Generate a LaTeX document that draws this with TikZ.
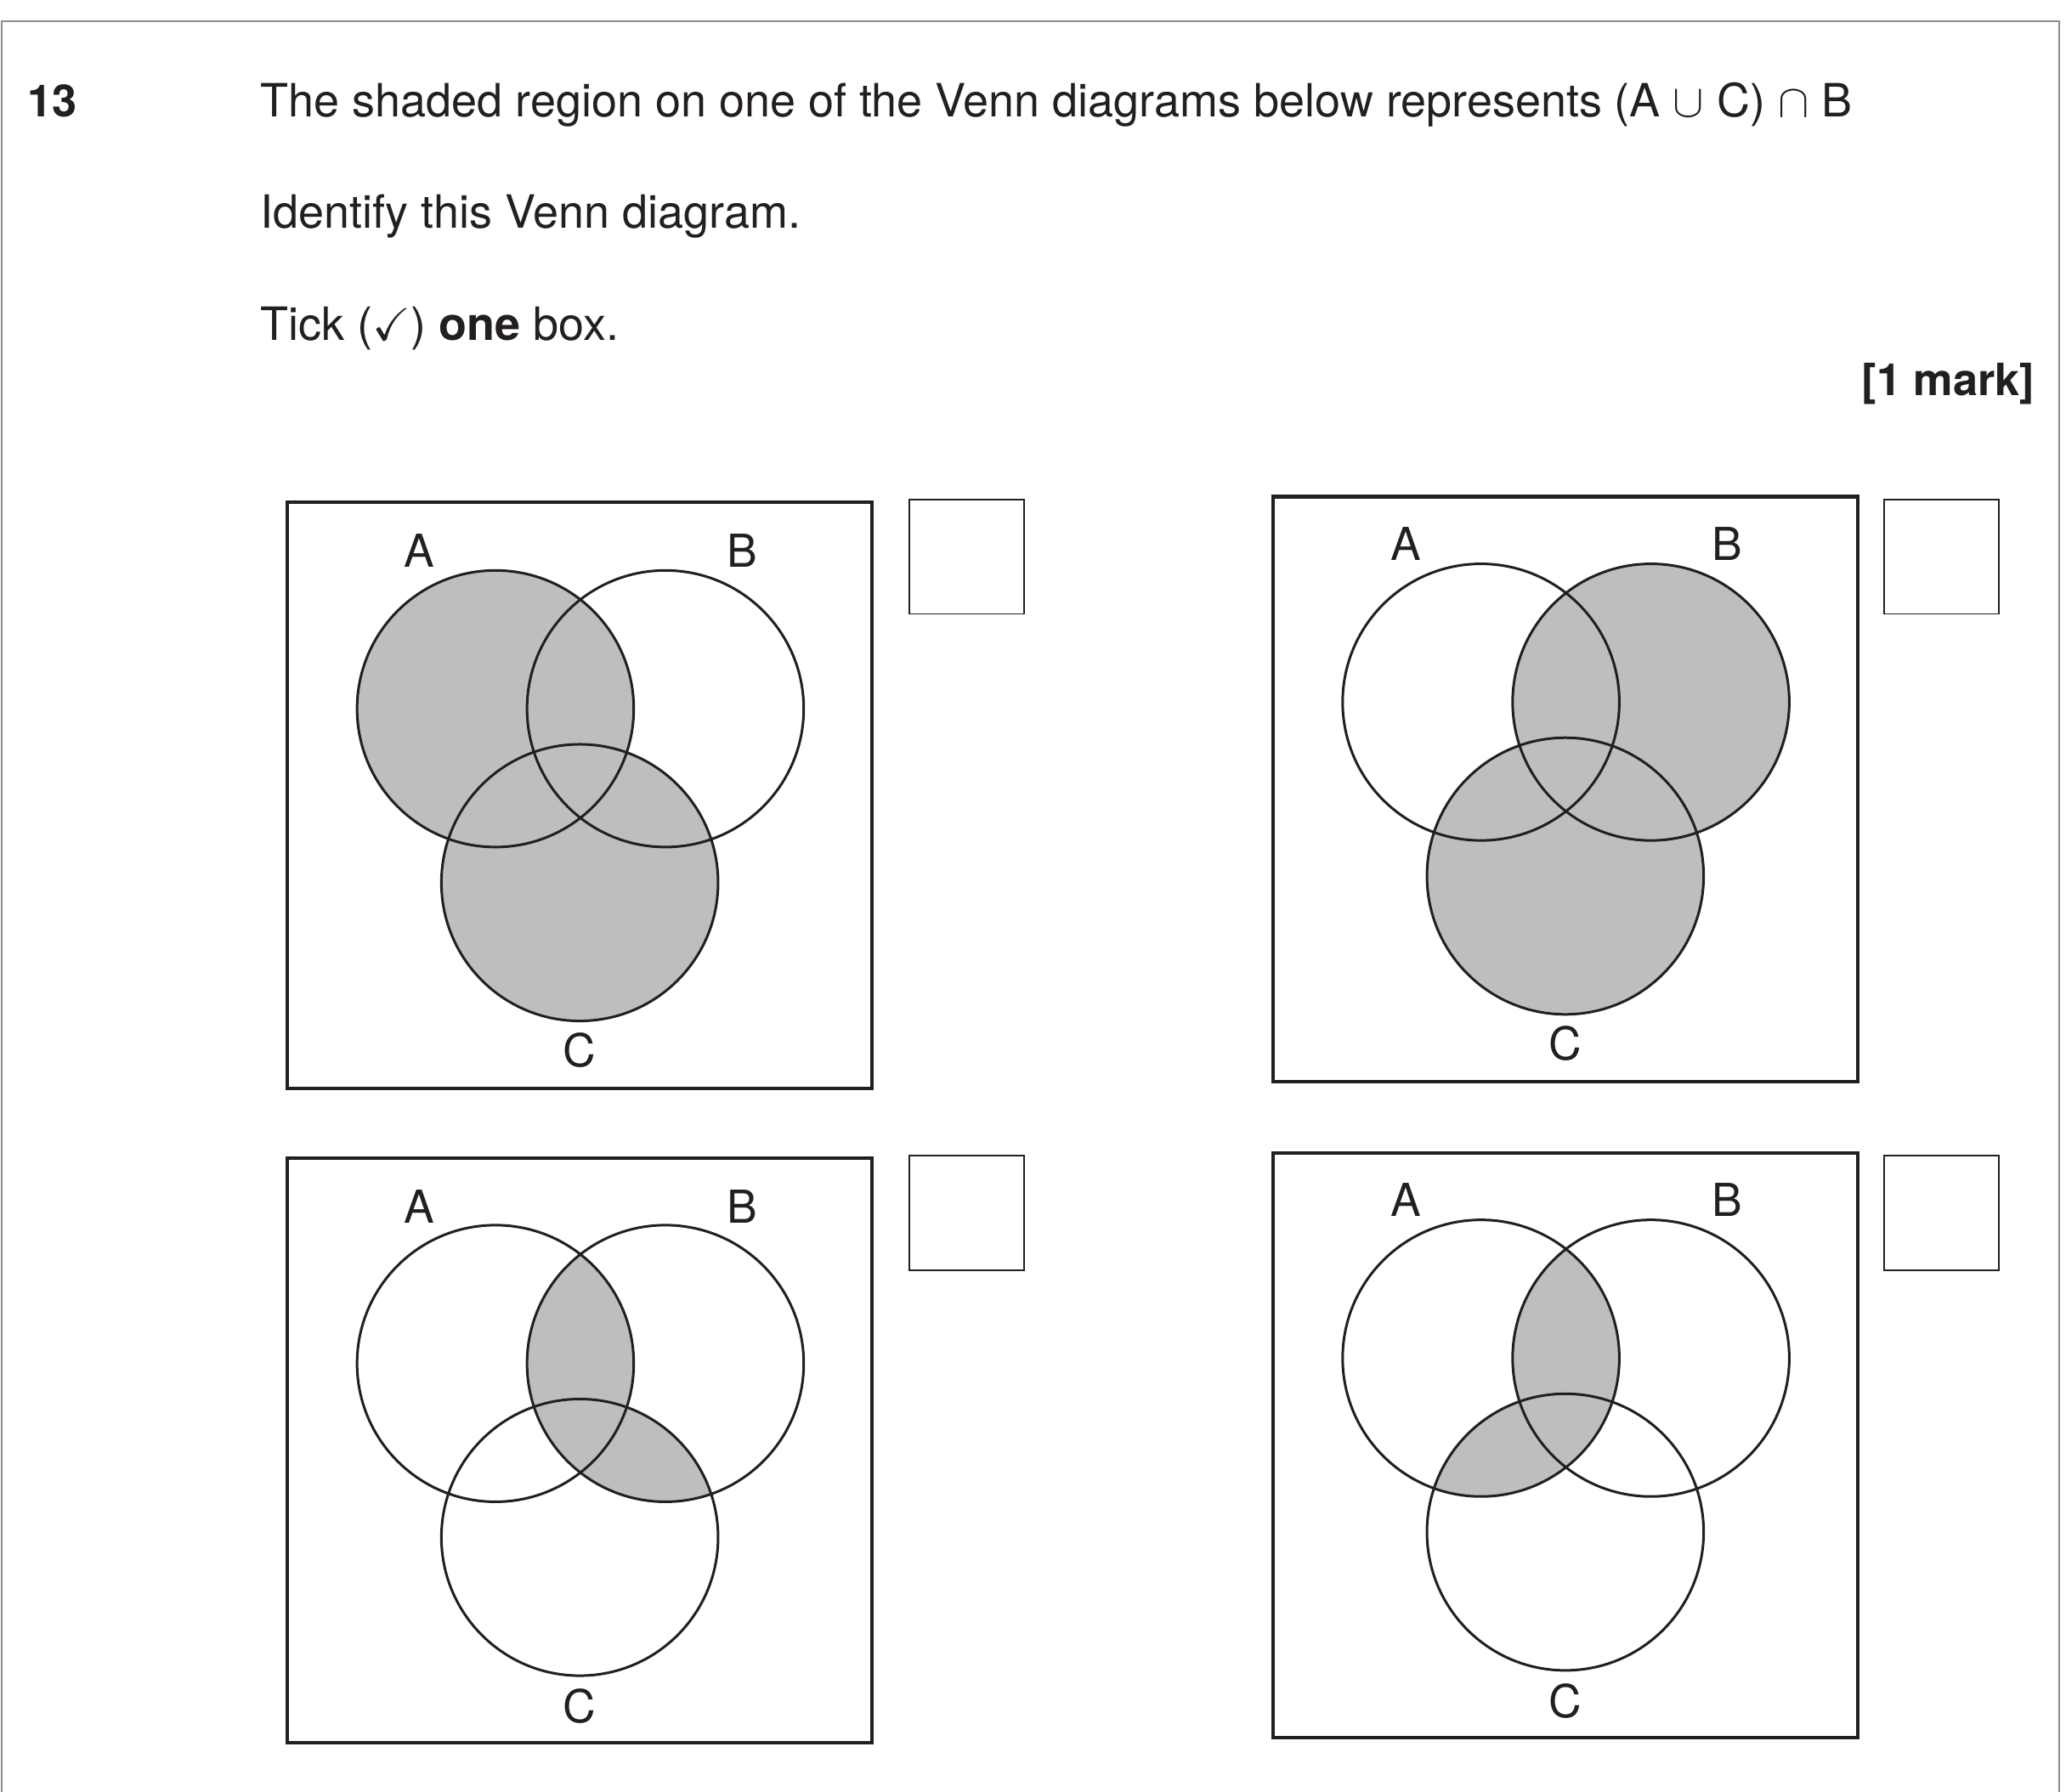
\documentclass[tikz,border=0pt]{standalone}
\usepackage{amssymb}
\usepackage{fontspec}
\setmainfont{TeX Gyre Heros}
\usetikzlibrary{positioning}

\definecolor{shadegray}{RGB}{189,190,192}
\definecolor{inkblack}{RGB}{35,31,32}
\tikzset{
  venn frame/.style={draw=inkblack,line width=0.75pt},
  ring/.style={draw=inkblack,line width=0.55pt},
  tickbox/.style={draw=inkblack,line width=0.35pt,minimum width=0.87cm,minimum height=0.87cm,inner sep=0pt},
  qtext/.style={font=\fontsize{9.9}{11}\selectfont,inner sep=0pt,text=inkblack},
  setlabel/.style={font=\fontsize{9.8}{11}\selectfont,inner sep=0pt,text=inkblack},
}

\begin{document}
\begin{tikzpicture}[x=0.01cm,y=-0.01cm]
  \useasboundingbox (0,0) rectangle (1568,1360);
  \draw[black!45,line width=0.35pt] (1,1360) -- (1,16) -- (1563,16) -- (1563,1360);

  % question text
  \node[qtext,font=\fontsize{9.6}{11}\selectfont\bfseries,anchor=base west] (qnum) at (20,89) {13};
  \node[qtext,anchor=base west] (line1) at (197,89) {The shaded region on one of the Venn diagrams below represents (A $\cup$ C) $\cap$ B};
  \node[qtext,anchor=base west] (line2) at (197,173) {Identify this Venn diagram.};
  \node[qtext,anchor=base west] (line3) at (197,258) {Tick ($\checkmark$) \textbf{one} box.};
  \node[qtext,font=\fontsize{9.6}{11}\selectfont\bfseries,anchor=base east] (mark) at (1545,300) {[1 mark]};

  % top left: A or C
  \begin{scope}[shift={(218,381)}]
    \coordinate (a1) at (158,157);
    \coordinate (b1) at (287,157);
    \coordinate (c1) at (222,289);
    \fill[shadegray] (a1) circle[radius=105] (c1) circle[radius=105];
    \draw[ring] (a1) circle[radius=105] (b1) circle[radius=105] (c1) circle[radius=105];
    \draw[venn frame] (0,0) rectangle (444,445);
    \node[setlabel] (la1) at (100,37) {A};
    \node[setlabel] (lb1) at (345,37) {B};
    \node[setlabel] (lc1) at (222,416) {C};
  \end{scope}

  % top right: B or C
  \begin{scope}[shift={(966,377)}]
    \coordinate (a2) at (158,156);
    \coordinate (b2) at (287,156);
    \coordinate (c2) at (222,288);
    \fill[shadegray] (b2) circle[radius=105] (c2) circle[radius=105];
    \draw[ring] (a2) circle[radius=105] (b2) circle[radius=105] (c2) circle[radius=105];
    \draw[venn frame] (0,0) rectangle (444,444);
    \node[setlabel] (la2) at (101,36) {A};
    \node[setlabel] (lb2) at (345,36) {B};
    \node[setlabel] (lc2) at (222,415) {C};
  \end{scope}

  % bottom left: B with A or C
  \begin{scope}[shift={(218,879)}]
    \coordinate (a3) at (158,156);
    \coordinate (b3) at (287,156);
    \coordinate (c3) at (222,288);
    \begin{scope}
      \clip (b3) circle[radius=105];
      \fill[shadegray] (a3) circle[radius=105] (c3) circle[radius=105];
    \end{scope}
    \draw[ring] (a3) circle[radius=105] (b3) circle[radius=105] (c3) circle[radius=105];
    \draw[venn frame] (0,0) rectangle (444,444);
    \node[setlabel] (la3) at (100,37) {A};
    \node[setlabel] (lb3) at (345,37) {B};
    \node[setlabel] (lc3) at (222,416) {C};
  \end{scope}

  % bottom right: A with B or C
  \begin{scope}[shift={(966,875)}]
    \coordinate (a4) at (158,156);
    \coordinate (b4) at (287,156);
    \coordinate (c4) at (222,288);
    \begin{scope}
      \clip (a4) circle[radius=105];
      \fill[shadegray] (b4) circle[radius=105] (c4) circle[radius=105];
    \end{scope}
    \draw[ring] (a4) circle[radius=105] (b4) circle[radius=105] (c4) circle[radius=105];
    \draw[venn frame] (0,0) rectangle (444,444);
    \node[setlabel] (la4) at (101,36) {A};
    \node[setlabel] (lb4) at (345,36) {B};
    \node[setlabel] (lc4) at (222,416) {C};
  \end{scope}

  % answer boxes
  \node[tickbox] (box1) at (733.5,422.5) {};
  \node[tickbox] (box2) at (1473.5,422.5) {};
  \node[tickbox] (box3) at (733.5,920.5) {};
  \node[tickbox] (box4) at (1473.5,920.5) {};
\end{tikzpicture}
\end{document}
